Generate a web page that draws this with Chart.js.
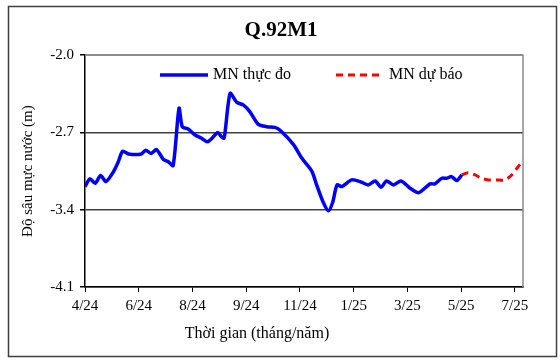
<!DOCTYPE html>
<html>
<head>
<meta charset="utf-8">
<script src="https://cdn.jsdelivr.net/npm/chart.js@4.4.1/dist/chart.umd.min.js"></script>
<style>
html,body{margin:0;padding:0;background:#fff;}
#wrap{width:560px;height:364px;position:relative;}
</style>
</head>
<body>
<div id="wrap"><canvas id="c" width="560" height="364"></canvas></div>
<script>
// ---- data (x in tick-interval units from 4/24) ----
const xTickLabels = ["4/24","6/24","8/24","9/24","11/24","1/25","3/25","5/25","7/25"];
const yTicks = [-4.1, -3.4, -2.7, -2.0];

const obsX = [0.00,0.09,0.19,0.29,0.39,0.53,0.62,0.70,0.81,1.05,1.13,1.23,1.33,1.46,1.55,1.64,1.75,1.81,1.92,2.05,2.17,2.28,2.38,2.47,2.54,2.59,2.70,2.82,2.95,3.07,3.22,3.38,3.53,3.63,3.88,4.03,4.22,4.31,4.43,4.53,4.61,4.69,4.78,4.96,5.12,5.27,5.40,5.51,5.61,5.74,5.88,6.05,6.21,6.42,6.51,6.64,6.73,6.82,6.92,7.01];
const obsY = [-3.19,-3.12,-3.16,-3.09,-3.145,-3.055,-2.965,-2.87,-2.895,-2.895,-2.86,-2.89,-2.855,-2.945,-2.965,-3.00,-2.48,-2.648,-2.669,-2.723,-2.753,-2.784,-2.744,-2.70,-2.74,-2.75,-2.345,-2.425,-2.452,-2.513,-2.624,-2.648,-2.654,-2.68,-2.81,-2.93,-3.05,-3.175,-3.33,-3.41,-3.33,-3.175,-3.19,-3.13,-3.145,-3.175,-3.139,-3.196,-3.139,-3.175,-3.139,-3.205,-3.245,-3.166,-3.166,-3.115,-3.115,-3.10,-3.136,-3.085];

const fcX = [7.01,7.13,7.26,7.38,7.50,7.66,7.81,7.94,8.06,8.15];
const fcY = [-3.085,-3.064,-3.085,-3.115,-3.13,-3.13,-3.13,-3.085,-3.01,-2.95];

const seriesNames = ["MN thực đo", "MN dự báo"];
const chartTitle = "Q.92M1";
const xTitle = "Thời gian (tháng/năm)";
const yTitle = "Độ sâu mực nước (m)";

const FONT = "'Liberation Serif', 'Times New Roman', serif";

// legend layout (inside plot area, at top)
const legendItemX = [160, 336];
const legendY = 75;
const legendSample = 48;

const framePlugin = {
  id: 'frame',
  beforeDraw(chart) {
    const ctx = chart.ctx;
    ctx.save();
    ctx.fillStyle = '#fff';
    ctx.fillRect(0, 0, chart.width, chart.height);
    ctx.strokeStyle = '#404040';
    ctx.lineWidth = 1.5;
    ctx.strokeRect(8.5, 6.5, 548, 350);
    ctx.restore();
  },
  beforeDatasetsDraw(chart) {
    const a = chart.chartArea;
    const ctx = chart.ctx;
    ctx.save();
    ctx.strokeStyle = '#8c8c8c';
    ctx.lineWidth = 1.5;
    ctx.beginPath();
    ctx.moveTo(a.left, a.top);
    ctx.lineTo(a.right, a.top);
    ctx.lineTo(a.right, a.bottom);
    ctx.stroke();
    ctx.restore();
  },
  afterDraw(chart) {
    const ctx = chart.ctx;
    ctx.save();
    ctx.fillStyle = '#000';
    ctx.font = "16px " + FONT;
    ctx.textAlign = 'center';
    ctx.textBaseline = 'middle';
    ctx.fillText(xTitle, 257, 334);
    // legend built from the datasets' own styles
    chart.data.datasets.forEach((ds, i) => {
      const x0 = legendItemX[i];
      ctx.save();
      ctx.strokeStyle = ds.borderColor;
      ctx.lineWidth = ds.borderWidth;
      ctx.setLineDash(ds.borderDash || []);
      ctx.beginPath();
      ctx.moveTo(x0, legendY);
      ctx.lineTo(x0 + legendSample, legendY);
      ctx.stroke();
      ctx.restore();
      ctx.fillStyle = '#000';
      ctx.font = "16px " + FONT;
      ctx.textAlign = 'left';
      ctx.textBaseline = 'middle';
      ctx.fillText(ds.label, x0 + legendSample + 5, legendY);
    });
    ctx.restore();
  }
};

new Chart(document.getElementById('c'), {
  type: 'line',
  data: {
    datasets: [
      {
        label: seriesNames[0],
        data: obsX.map((x, i) => ({x: x, y: obsY[i]})),
        borderColor: '#0000ff',
        backgroundColor: '#0000ff',
        borderWidth: 3.5,
        pointRadius: 0,
        tension: 0.25,
        fill: false,
        yAxisID: 'y'
      },
      {
        label: seriesNames[1],
        data: fcX.map((x, i) => ({x: x, y: fcY[i]})),
        borderColor: '#ff0000',
        backgroundColor: '#ff0000',
        borderWidth: 3,
        borderDash: [7, 5],
        pointRadius: 0,
        tension: 0.3,
        fill: false,
        yAxisID: 'y'
      }
    ]
  },
  options: {
    responsive: false,
    animation: false,
    devicePixelRatio: 1,
    layout: { padding: { left: 6, right: 4, top: 0, bottom: 10 } },
    plugins: {
      title: {
        display: true,
        text: chartTitle,
        color: '#000',
        font: { family: FONT, size: 21, weight: 'bold' },
        padding: { top: 18, bottom: 12 }
      },
      legend: { display: false },
      tooltip: { enabled: false }
    },
    scales: {
      x: {
        type: 'linear',
        min: 0,
        max: 8.15,
        afterBuildTicks(scale) {
          scale.ticks = xTickLabels.map((_, i) => ({ value: i }));
        },
        afterFit(scale) { scale.height = 67; },
        ticks: {
          color: '#000',
          font: { family: FONT, size: 15 },
          padding: 5,
          maxRotation: 0,
          autoSkip: false,
          callback: (v, i) => xTickLabels[i]
        },
        grid: { drawOnChartArea: false, drawTicks: true, tickLength: 5, color: '#000', tickColor: '#000' },
        border: { display: true, color: '#000', width: 1.5 }
      },
      y: {
        type: 'linear',
        position: 'left',
        min: -4.1,
        max: -2.0,
        afterBuildTicks(scale) {
          scale.ticks = yTicks.map(v => ({ value: v }));
        },
        afterFit(scale) { scale.width = 79; },
        ticks: {
          color: '#000',
          font: { family: FONT, size: 15 },
          padding: 6,
          callback: (v) => Number(v).toFixed(1)
        },
        grid: {
          drawOnChartArea: true,
          drawTicks: true,
          tickLength: 5,
          lineWidth: 1.5,
          color: (ctx) => (ctx.tick && Math.abs(ctx.tick.value + 2.0) < 1e-6) ? '#8c8c8c' : '#404040',
          tickColor: '#000'
        },
        border: { display: true, color: '#000', width: 1.5 },
        title: {
          display: true,
          text: yTitle,
          color: '#000',
          font: { family: FONT, size: 15 },
          padding: { top: 13, bottom: 0 }
        }
      },
      yRight: {
        type: 'linear',
        position: 'right',
        min: -4.1,
        max: -2.0,
        afterFit(scale) { scale.width = 33; },
        ticks: { display: false },
        grid: { display: false, drawOnChartArea: false },
        border: { display: false }
      }
    }
  },
  plugins: [framePlugin]
});
</script>
</body>
</html>
